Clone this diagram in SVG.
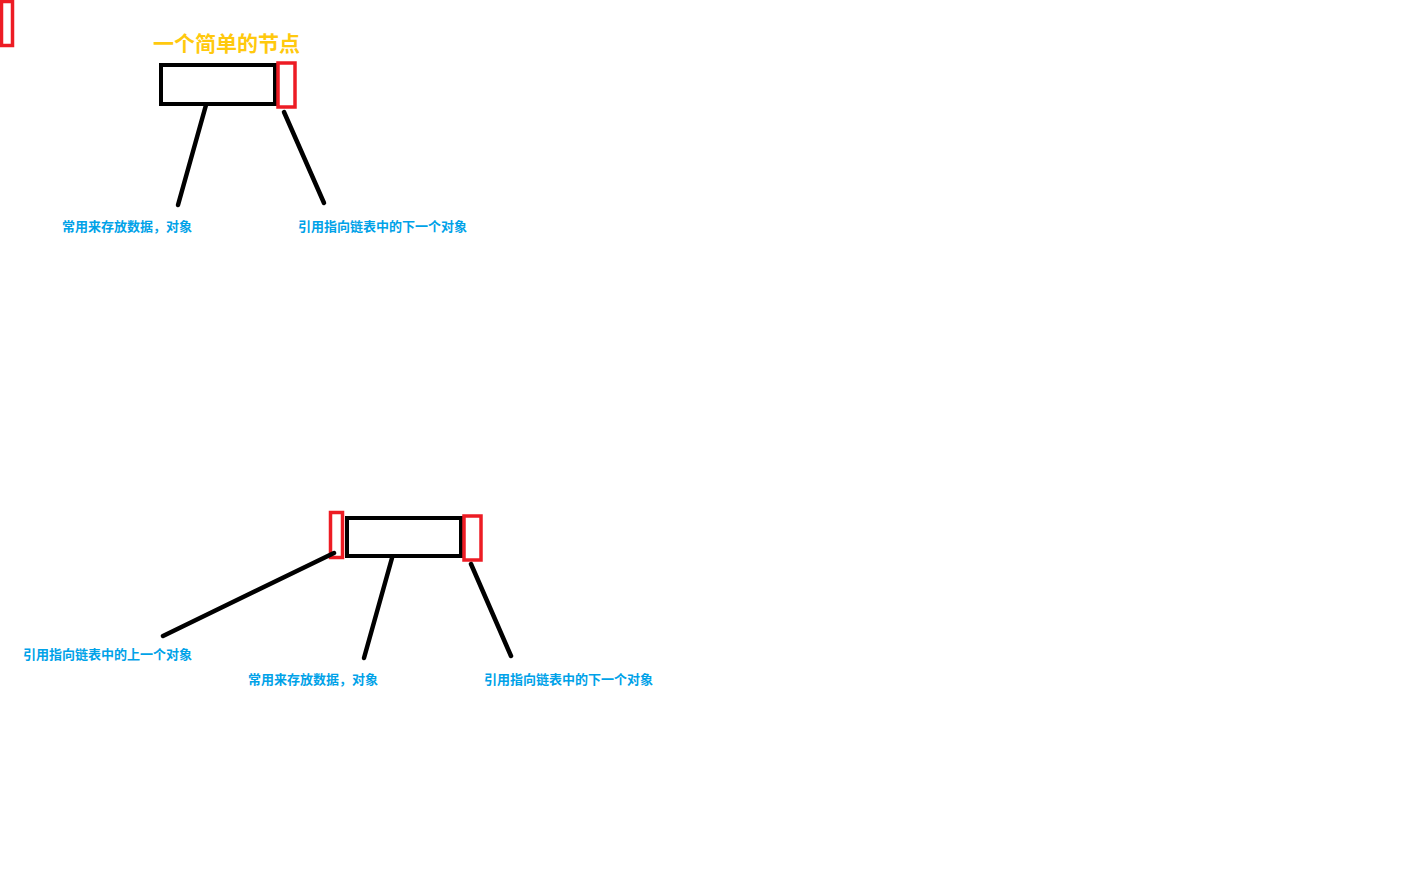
<svg xmlns="http://www.w3.org/2000/svg" width="1413" height="880" viewBox="0 0 1413 880">
<style>
.red{fill:none;stroke:#ED1C24;stroke-width:3.5}
.blk{fill:none;stroke:#000;stroke-width:4}
.ln{stroke:#000;stroke-width:4.5;stroke-linecap:round}
.lbl{font-family:"Microsoft YaHei","Noto Sans CJK SC",sans-serif;font-weight:bold;font-size:13px;fill:#00A2E8}
.ttl{font-family:"Microsoft YaHei","Noto Sans CJK SC",sans-serif;font-weight:bold;font-size:21px;fill:#FFC90E}
</style>
<rect width="1413" height="880" fill="#fff"/>
<g id="marker-corner"><rect class="red" x="1.5" y="1.5" width="11" height="44"/></g>
<g id="title"><text class="ttl" x="153" y="51">一个简单的节点</text></g>
<g id="node1">
<rect class="blk" x="161" y="65" width="114" height="39"/>
<rect class="red" x="278" y="63" width="17" height="44" stroke-width="4"/>
</g>
<g id="node2">
<rect class="red" x="330.5" y="512.5" width="12" height="45" stroke-width="3"/>
<rect class="blk" x="347" y="518" width="114" height="38"/>
<rect class="red" x="464" y="516" width="17" height="44" stroke-width="4"/>
</g>
<g id="connectors">
<line class="ln" x1="206" y1="105" x2="178" y2="205"/>
<line class="ln" x1="284" y1="112" x2="324" y2="203"/>
<line class="ln" x1="334" y1="553" x2="163" y2="636"/>
<line class="ln" x1="392" y1="558" x2="364" y2="658"/>
<line class="ln" x1="471" y1="564" x2="511" y2="656"/>
</g>
<g id="labels">
<text class="lbl" x="62" y="231">常用来存放数据，对象</text>
<text class="lbl" x="298" y="231">引用指向链表中的下一个对象</text>
<text class="lbl" x="23" y="659">引用指向链表中的上一个对象</text>
<text class="lbl" x="248" y="684">常用来存放数据，对象</text>
<text class="lbl" x="484" y="684">引用指向链表中的下一个对象</text>
</g>
</svg>
